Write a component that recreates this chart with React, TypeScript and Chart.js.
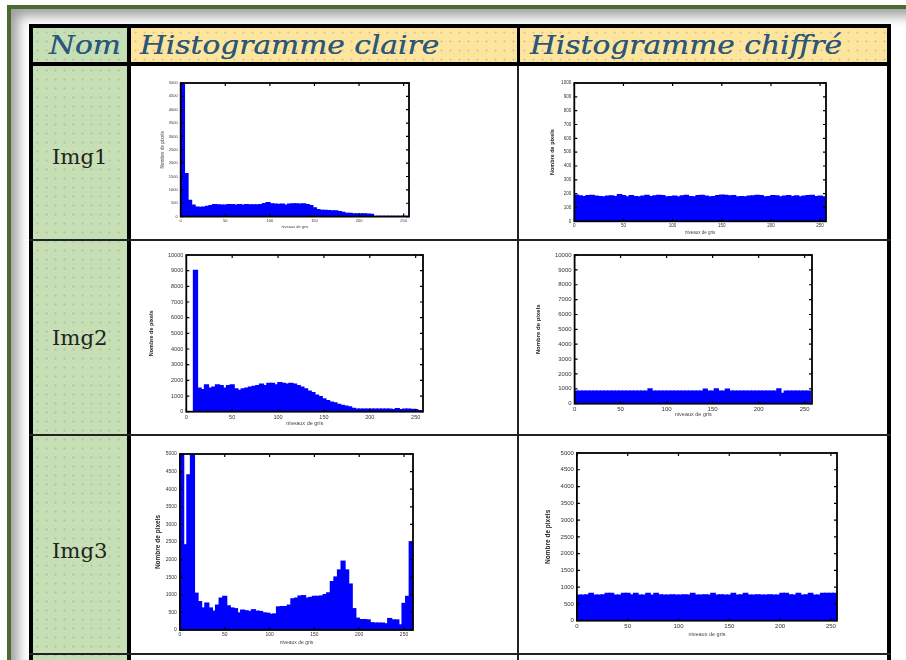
import React, { useEffect, useRef } from "react";
import { Chart, registerables } from "chart.js";

Chart.register(...registerables);

// ---------- data ----------
const binCenters = [2, 6, 10, 14, 18, 22, 26, 30, 34, 38, 42, 46, 50, 54, 58, 62, 66, 70, 74, 78, 82, 86, 90, 94, 98, 102, 106, 110, 114, 118, 122, 126, 130, 134, 138, 142, 146, 150, 154, 158, 162, 166, 170, 174, 178, 182, 186, 190, 194, 198, 202, 206, 210, 214, 218, 222, 226, 230, 234, 238, 242, 246, 250, 254, 258];

const img1Clear = [5000, 1600, 600, 420, 350, 340, 350, 380, 400, 440, 430, 420, 420, 440, 440, 420, 440, 420, 440, 430, 430, 430, 440, 480, 520, 470, 460, 450, 460, 420, 460, 470, 470, 460, 470, 440, 400, 320, 250, 230, 230, 220, 210, 210, 180, 150, 110, 110, 100, 100, 100, 100, 90, 80, 0, 0, 0, 0, 0, 0, 0, 0, 0, 0];
const img1Cipher = [188, 182, 178, 184, 186, 180, 178, 176, 180, 182, 178, 192, 185, 176, 184, 178, 176, 180, 186, 178, 182, 186, 184, 176, 178, 180, 176, 182, 186, 178, 176, 184, 186, 180, 176, 178, 184, 188, 186, 182, 184, 176, 178, 176, 180, 182, 186, 184, 176, 178, 184, 182, 176, 180, 184, 178, 182, 176, 180, 184, 186, 178, 180, 176];
const img2Clear = [0, 0, 9000, 1500, 1400, 1700, 1500, 1550, 1700, 1650, 1500, 1650, 1700, 1450, 1350, 1450, 1500, 1550, 1600, 1650, 1750, 1650, 1800, 1800, 1700, 1850, 1800, 1750, 1800, 1750, 1650, 1550, 1450, 1300, 1200, 1050, 950, 800, 700, 600, 550, 450, 400, 350, 300, 200, 150, 150, 150, 150, 150, 150, 150, 150, 150, 150, 120, 180, 120, 150, 160, 130, 120, 60];
const img2Cipher = [830, 828, 832, 830, 826, 830, 834, 830, 828, 830, 832, 830, 828, 830, 832, 830, 828, 830, 832, 830, 980, 830, 828, 832, 830, 830, 828, 832, 830, 828, 830, 832, 830, 828, 830, 975, 830, 832, 980, 830, 828, 970, 832, 830, 828, 830, 832, 830, 828, 830, 832, 830, 828, 830, 832, 985, 680, 830, 828, 832, 830, 828, 830, 832];
const img3Clear = [5000, 2415, 4400, 5000, 1040, 800, 620, 760, 620, 530, 700, 900, 950, 680, 620, 600, 480, 560, 540, 520, 570, 530, 520, 480, 470, 440, 450, 650, 660, 660, 700, 880, 900, 960, 970, 900, 920, 950, 950, 960, 1000, 1050, 1370, 1500, 1700, 1950, 1700, 1300, 600, 330, 290, 290, 280, 200, 190, 190, 190, 170, 320, 280, 280, 140, 750, 950, 2500];
const img3Cipher = [760, 758, 762, 812, 760, 758, 762, 810, 808, 760, 758, 812, 810, 762, 808, 760, 758, 812, 760, 810, 762, 758, 760, 762, 758, 760, 762, 758, 812, 760, 758, 762, 760, 810, 758, 762, 760, 758, 812, 760, 762, 810, 758, 760, 762, 758, 760, 762, 758, 760, 812, 810, 762, 758, 808, 760, 762, 812, 758, 760, 810, 812, 808, 812];

const xTickValues = [0, 50, 100, 150, 200, 250];
const yTicks500 = [0, 500, 1000, 1500, 2000, 2500, 3000, 3500, 4000, 4500, 5000];
const yTicks100 = [0, 100, 200, 300, 400, 500, 600, 700, 800, 900, 1000];
const yTicks1000 = [0, 1000, 2000, 3000, 4000, 5000, 6000, 7000, 8000, 9000, 10000];

const headerLabels = ["Nom", "Histogramme claire", "Histogramme chiffré"];
const rowLabels = ["Img1", "Img2", "Img3"];
const yAxisTitle = "Nombre de pixels";
const xAxisTitle = "niveaux de gris";

// ---------- layout of the six plots ----------
type Spec = {
  values: number[];
  yTicks: number[];
  xMax: number;
  box: { l: number; t: number; r: number; b: number };
  yTitleX: number;
  xTitleY: number;
  tickSize: number;
  yTitleSize: number;
  xTitleSize: number;
  yTitleColor: string;
};

const specs: Spec[] = [
  { values: img1Clear, yTicks: yTicks500, xMax: 256, box: { l: 181, t: 83, r: 409, b: 217 }, yTitleX: 163, xTitleY: 227, tickSize: 4, yTitleSize: 4.5, xTitleSize: 4, yTitleColor: "#777" },
  { values: img1Cipher, yTicks: yTicks100, xMax: 256, box: { l: 574, t: 83, r: 826, b: 221 }, yTitleX: 552, xTitleY: 232, tickSize: 4.5, yTitleSize: 5.5, xTitleSize: 4.5, yTitleColor: "#222" },
  { values: img2Clear, yTicks: yTicks1000, xMax: 258, box: { l: 186, t: 255, r: 423, b: 412 }, yTitleX: 151, xTitleY: 424, tickSize: 5.5, yTitleSize: 5.5, xTitleSize: 5.5, yTitleColor: "#222" },
  { values: img2Cipher, yTicks: yTicks1000, xMax: 258, box: { l: 575, t: 255, r: 812, b: 404 }, yTitleX: 539, xTitleY: 415, tickSize: 6, yTitleSize: 6, xTitleSize: 5.5, yTitleColor: "#222" },
  { values: img3Clear, yTicks: yTicks500, xMax: 260, box: { l: 180, t: 454, r: 413, b: 630 }, yTitleX: 158, xTitleY: 643, tickSize: 5, yTitleSize: 6.5, xTitleSize: 5, yTitleColor: "#222" },
  { values: img3Cipher, yTicks: yTicks500, xMax: 256, box: { l: 577, t: 453, r: 837, b: 621 }, yTitleX: 548, xTitleY: 635, tickSize: 6, yTitleSize: 6.5, xTitleSize: 5.5, yTitleColor: "#222" },
];

const PAD_TOP = 8;
const PAD_RIGHT = 10;

const boxPlugin = {
  id: "matlabBox",
  afterDatasetsDraw(chart: any) {
    const { ctx, chartArea: a, scales } = chart;
    const tl = 3;
    ctx.save();
    ctx.strokeStyle = "#000";
    ctx.lineWidth = 1.2;
    ctx.beginPath();
    scales.x.ticks.forEach((t: any) => {
      const p = scales.x.getPixelForValue(t.value);
      ctx.moveTo(p, a.bottom);
      ctx.lineTo(p, a.bottom - tl);
      ctx.moveTo(p, a.top);
      ctx.lineTo(p, a.top + tl);
    });
    scales.y.ticks.forEach((t: any) => {
      const p = scales.y.getPixelForValue(t.value);
      ctx.moveTo(a.left, p);
      ctx.lineTo(a.left + tl, p);
      ctx.moveTo(a.right, p);
      ctx.lineTo(a.right - tl, p);
    });
    ctx.stroke();
    ctx.lineWidth = 1.8;
    ctx.strokeRect(a.left, a.top, a.right - a.left, a.bottom - a.top);
    ctx.restore();
  },
};

function Hist({ spec }: { spec: Spec }) {
  const ref = useRef<HTMLCanvasElement | null>(null);
  const { box } = spec;
  const yW = box.l - spec.yTitleX + (spec.yTitleSize * 1.2) / 2;
  const xH = spec.xTitleY - box.b + (spec.xTitleSize * 1.2) / 2;
  const width = Math.round(yW + (box.r - box.l) + PAD_RIGHT);
  const height = Math.round(PAD_TOP + (box.b - box.t) + xH);
  const left = box.l - yW;
  const top = box.t - PAD_TOP;

  useEffect(() => {
    if (!ref.current) return;
    const chart = new Chart(ref.current, {
      type: "bar",
      data: {
        datasets: [
          {
            data: spec.values.map((v, i) => ({ x: binCenters[i], y: v })),
            backgroundColor: "#0000ff",
            borderColor: "#0000ff",
            borderWidth: 0,
            inflateAmount: 0.8,
            barPercentage: 1,
            categoryPercentage: 1,
          } as any,
        ],
      },
      options: {
        animation: false,
        responsive: false,
        maintainAspectRatio: false,
        devicePixelRatio: 1,
        layout: { padding: { top: PAD_TOP, right: PAD_RIGHT, left: 0, bottom: 0 } },
        plugins: { legend: { display: false }, tooltip: { enabled: false } },
        scales: {
          x: {
            type: "linear",
            min: 0,
            max: spec.xMax,
            offset: false,
            grid: { display: false, offset: false, drawTicks: false },
            border: { display: false },
            afterBuildTicks: (s: any) => {
              s.ticks = xTickValues.map((v) => ({ value: v }));
            },
            ticks: {
              padding: 2,
              maxRotation: 0,
              autoSkip: false,
              color: "#333",
              font: { size: spec.tickSize, family: "Arial, 'Liberation Sans', sans-serif" },
              callback: (v: any) => String(v),
            },
            title: {
              display: true,
              text: xAxisTitle,
              padding: 0,
              color: "#444",
              font: { size: spec.xTitleSize, family: "Arial, 'Liberation Sans', sans-serif" },
            },
            afterFit: (s: any) => {
              s.height = xH;
            },
          },
          y: {
            type: "linear",
            min: 0,
            max: spec.yTicks[spec.yTicks.length - 1],
            grid: { display: false, drawTicks: false },
            border: { display: false },
            afterBuildTicks: (s: any) => {
              s.ticks = spec.yTicks.map((v) => ({ value: v }));
            },
            ticks: {
              padding: 3,
              autoSkip: false,
              color: "#333",
              font: { size: spec.tickSize, family: "Arial, 'Liberation Sans', sans-serif" },
              callback: (v: any) => String(v),
            },
            title: {
              display: true,
              text: yAxisTitle,
              padding: 0,
              color: spec.yTitleColor,
              font: { size: spec.yTitleSize, weight: "bold", family: "Arial, 'Liberation Sans', sans-serif" },
            },
            afterFit: (s: any) => {
              s.width = yW;
            },
          },
        },
      } as any,
      plugins: [boxPlugin],
    });
    return () => chart.destroy();
  }, []);

  return (
    <canvas
      ref={ref}
      width={width}
      height={height}
      style={{ position: "absolute", left, top, width, height, filter: "blur(0.35px)" }}
    />
  );
}

const GREEN = "#c6dfb4";
const YELLOW = "#fde59d";
const dots = "radial-gradient(circle, rgba(150,150,150,0.35) 0.9px, transparent 1.3px)";

function Rect(p: { l: number; t: number; w: number; h: number; bg: string; pattern?: boolean }) {
  return (
    <div
      style={{
        position: "absolute",
        left: p.l,
        top: p.t,
        width: p.w,
        height: p.h,
        background: p.bg,
        backgroundImage: p.pattern ? dots : undefined,
        backgroundSize: p.pattern ? "9px 9px" : undefined,
      }}
    />
  );
}

export default function App() {
  useEffect(() => {
    document.body.style.margin = "0";
  }, []);
  const headerFont: React.CSSProperties = {
    position: "absolute",
    top: 28,
    height: 34,
    lineHeight: "34px",
    fontFamily: "'DejaVu Serif', serif",
    fontStyle: "italic",
    fontSize: 26,
    color: "#2b587a",
    whiteSpace: "nowrap",
    transformOrigin: "0 50%",
    transform: "scaleX(1.14)",
    textShadow: "0 0 0.4px #2b587a",
  };
  const rowY = [157, 338, 551];
  return (
    <div style={{ position: "absolute", left: 0, top: 0, width: 906, height: 660, overflow: "hidden", background: "#fff" }}>
      {/* outer green frame with inner shadow */}
      <div
        style={{
          position: "absolute",
          left: 7,
          top: 5,
          width: 1000,
          height: 1000,
          borderLeft: "4px solid #4d6b2c",
          borderTop: "4px solid #4d6b2c",
          boxShadow: "inset 7px 7px 12px rgba(0,0,0,0.38)",
        }}
      />
      {/* cell backgrounds */}
      <Rect l={33} t={28} w={94} h={34} bg={GREEN} pattern />
      <Rect l={131} t={28} w={386} h={34} bg={YELLOW} pattern />
      <Rect l={520} t={28} w={367} h={34} bg={YELLOW} pattern />
      <Rect l={33} t={66} w={94} h={600} bg={GREEN} pattern />
      <Rect l={131} t={66} w={756} h={600} bg="#ffffff" />
      {/* table lines */}
      <Rect l={29} t={24} w={862} h={4} bg="#000" />
      <Rect l={29} t={62} w={862} h={4} bg="#000" />
      <Rect l={29} t={24} w={4} h={640} bg="#000" />
      <Rect l={887} t={24} w={4} h={640} bg="#000" />
      <Rect l={127} t={24} w={4} h={640} bg="#000" />
      <Rect l={517} t={24} w={3} h={42} bg="#000" />
      <Rect l={517} t={66} w={2} h={600} bg="#222" />
      <Rect l={29} t={239} w={862} h={2} bg="#222" />
      <Rect l={29} t={434} w={862} h={2} bg="#222" />
      <Rect l={29} t={653} w={862} h={2} bg="#222" />
      {/* header texts */}
      <div style={{ ...headerFont, left: 49 }}>{headerLabels[0]}</div>
      <div style={{ ...headerFont, left: 140 }}>{headerLabels[1]}</div>
      <div style={{ ...headerFont, left: 530 }}>{headerLabels[2]}</div>
      {/* row names */}
      {rowLabels.map((r, i) => (
        <div
          key={r}
          style={{
            position: "absolute",
            left: 52,
            top: rowY[i] - 14,
            height: 28,
            lineHeight: "28px",
            fontFamily: "'DejaVu Serif', serif",
            fontSize: 20,
            color: "#222",
            whiteSpace: "nowrap",
            transformOrigin: "0 50%",
            transform: "scaleX(1.06)",
          }}
        >
          {r}
        </div>
      ))}
      {/* histograms */}
      {specs.map((s, i) => (
        <Hist key={i} spec={s} />
      ))}
    </div>
  );
}
